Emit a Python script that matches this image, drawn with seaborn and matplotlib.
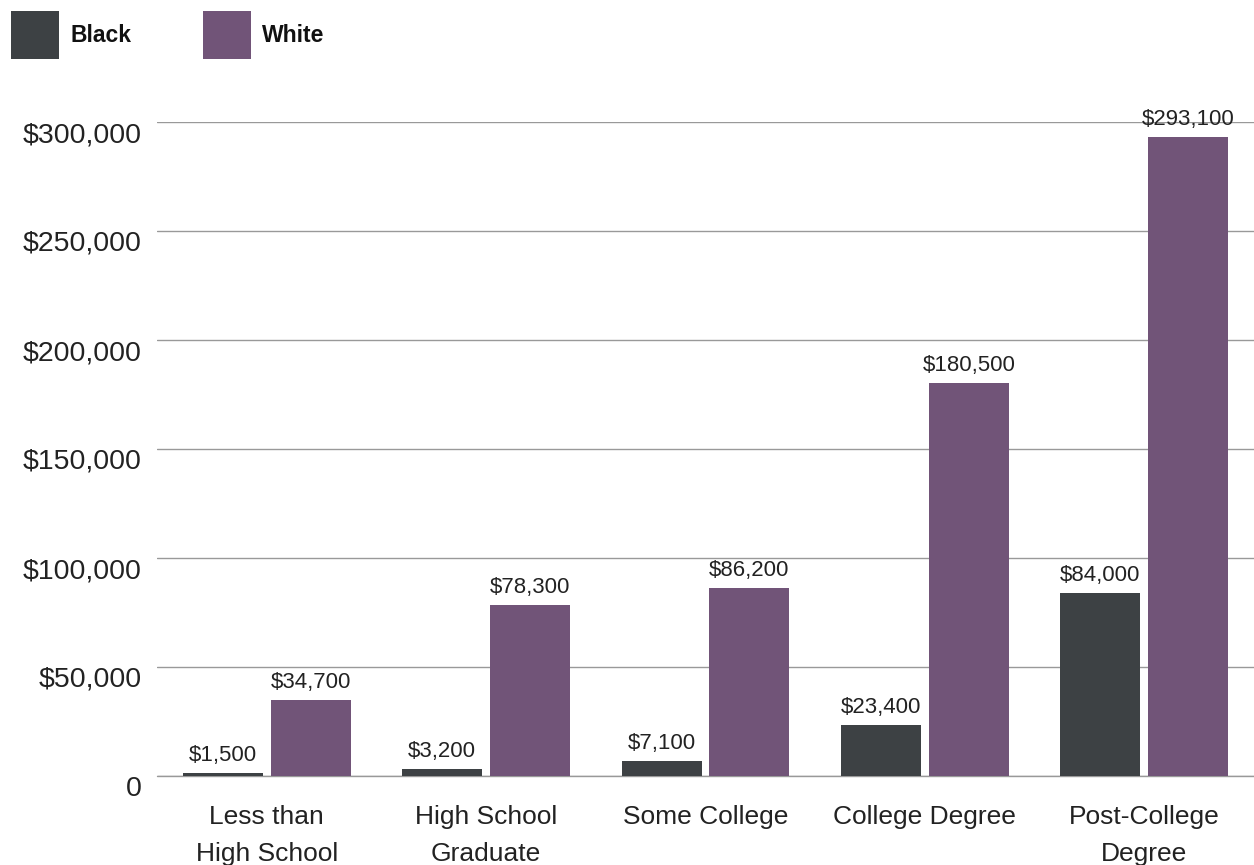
import pandas as pd
import seaborn as sns
import matplotlib.pyplot as plt
from matplotlib.patches import Rectangle
import matplotlib.transforms as mtransforms

categories = ['Less than\nHigh School', 'High School\nGraduate', 'Some College',
              'College Degree', 'Post-College\nDegree']
black = [1500, 3200, 7100, 23400, 84000]
white = [34700, 78300, 86200, 180500, 293100]
groups = ['Black', 'White']
colors = ['#3d4144', '#715478']

df = pd.DataFrame({
    'education': categories * 2,
    'wealth': black + white,
    'race': ['Black'] * len(black) + ['White'] * len(white),
})

sns.set_style('white')
plt.rcParams['font.family'] = ['Liberation Sans', 'DejaVu Sans']

fig = plt.figure(figsize=(12.54, 8.65), dpi=100)
ax = fig.add_axes([157 / 1254, 89 / 865, 1 - 157 / 1254, (776 - 122) / 865])

sns.barplot(data=df, x='education', y='wealth', hue='race', hue_order=groups,
            palette=colors, width=0.8, gap=0.09, saturation=1, legend=False,
            linewidth=0, ax=ax, zorder=3)

for cont in ax.containers:
    ax.bar_label(cont, labels=['${:,.0f}'.format(v) for v in cont.datavalues],
                 padding=5, fontsize=16, color='#222222', zorder=4)

ax.set_ylim(0, 300000)
ax.set_xlim(-0.5, 4.5)
ax.set_yticks(range(0, 300001, 50000))
ax.set_yticklabels(['0'] + ['${:,}'.format(v) for v in range(50000, 300001, 50000)])
ax.yaxis.grid(True, color='#999999', linewidth=1)
ax.axhline(0, color='#999999', linewidth=1, clip_on=False, zorder=2)
ax.set_axisbelow(True)
for s in ax.spines.values():
    s.set_visible(False)
ax.tick_params(axis='y', length=0, pad=11, labelsize=20.5, labelcolor='#222222')
ax.tick_params(axis='x', length=0, pad=21, labelsize=19, labelcolor='#222222')
for lab in ax.get_xticklabels():
    lab.set_linespacing(1.65)
off = mtransforms.ScaledTranslation(0, -10 / 100, fig.dpi_scale_trans)
for lab in ax.get_yticklabels():
    lab.set_transform(lab.get_transform() + off)
ax.set_xlabel('')
ax.set_ylabel('')

# legend squares at the top left
for i, (g, c) in enumerate(zip(groups, colors)):
    x0 = (11 + 192 * i) / 1254
    fig.patches.append(Rectangle((x0, 1 - 59 / 865), 48 / 1254, 48 / 865,
                                 transform=fig.transFigure, color=c, lw=0))
    fig.text(x0 + 59 / 1254, 1 - 35 / 865, g, fontsize=16.5, fontweight='bold',
             va='center', ha='left', color='#111111')

fig.savefig('out.png', dpi=100)
